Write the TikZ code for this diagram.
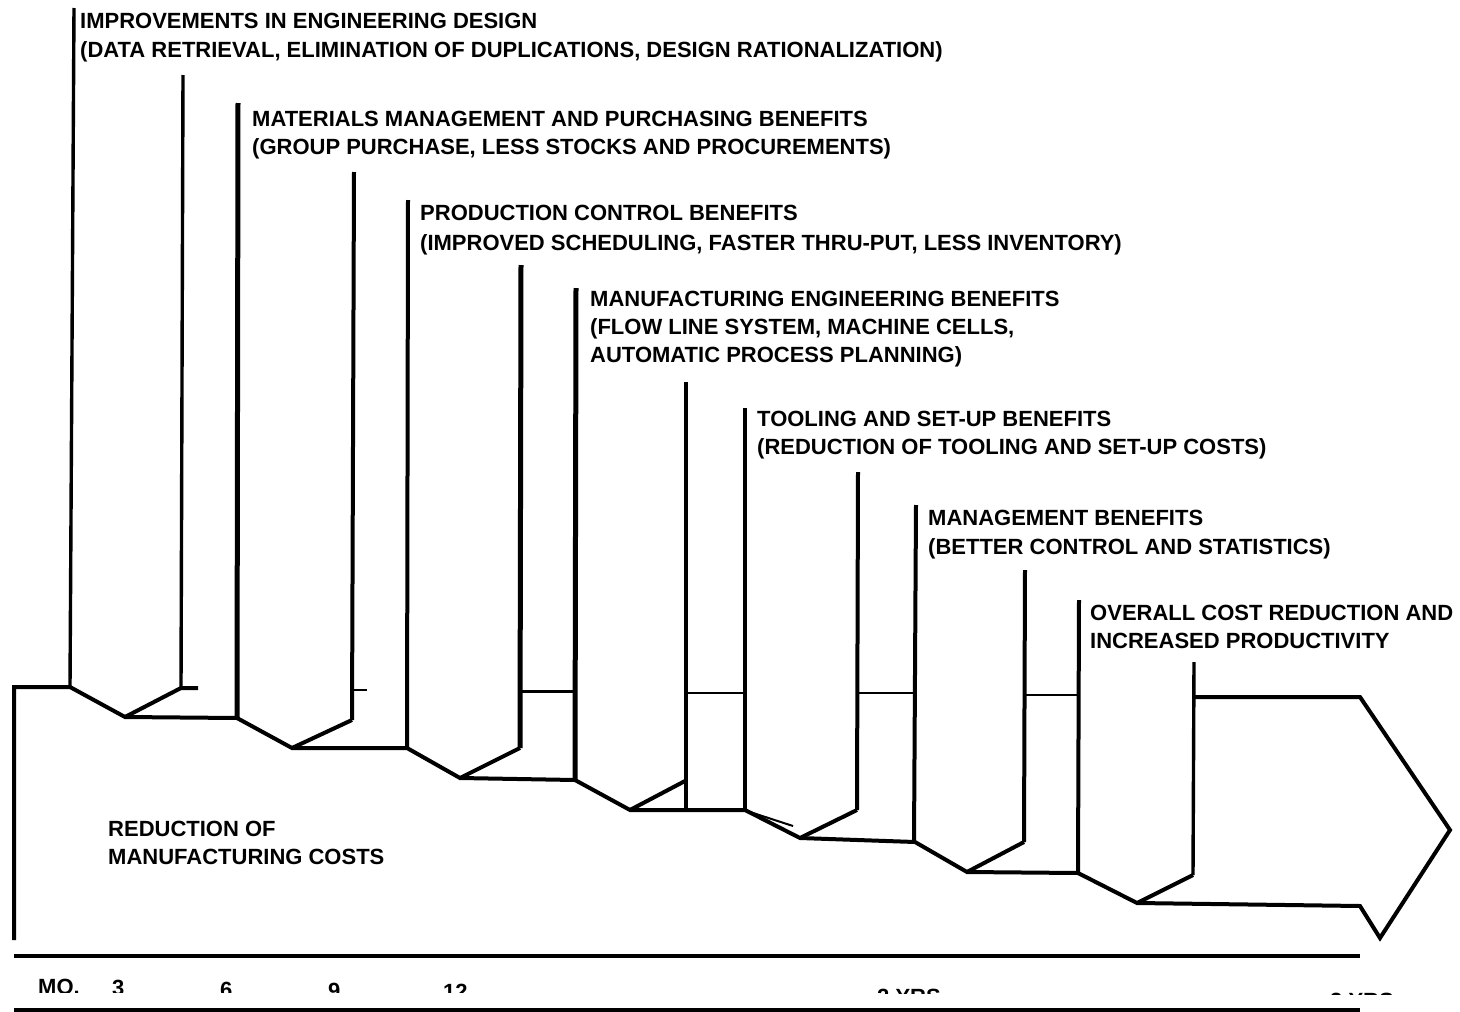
\documentclass[tikz,border=0pt]{standalone}
\usepackage{fontspec}
\setmainfont{Liberation Sans}
\begin{document}
\begin{tikzpicture}[x=1pt,y=-1pt,
  lbl/.style={anchor=base west,inner sep=0pt,font=\fontsize{22}{26}\selectfont\bfseries},
  lead/.style={line width=4pt},
  stepline/.style={line width=4pt,line join=miter},
  thinrule/.style={line width=2pt},
  axisrule/.style={line width=4pt}]
\useasboundingbox (0,0) rectangle (1460,1012);

% ---- stepped cost line and arrow outline ----
\draw[stepline] (14,940) -- (14,687) -- (70,687) -- (125,717) -- (237,718)
  -- (292,748) -- (407,748) -- (460,778) -- (575,780) -- (630,810) -- (745,810)
  -- (800,838) -- (915,842) -- (967,872) -- (1078,873) -- (1137,903)
  -- (1360,906) -- (1380,938) -- (1450,830) -- (1360,697) -- (1195,697);

% rising edges of the V notches
\draw[stepline] (125,717) -- (181,688) -- (198,688);
\draw[stepline] (292,748) -- (352,720);
\draw[stepline] (460,778) -- (520,748);
\draw[stepline] (630,810) -- (685,781);
\draw[stepline] (800,838) -- (857,810);
\draw[stepline] (967,872) -- (1024,842);
\draw[stepline] (1137,903) -- (1193,875);
\draw[thinrule] (750,812) -- (793,826);

% pieces of the upper arrow edge between the columns
\draw[thinrule] (352,690) -- (367,690);
\draw[line width=3pt] (520,691) -- (575,691);
\draw[line width=1.6pt] (686,693) -- (745,693);
\draw[line width=2.6pt] (857,693) -- (915,693);
\draw[line width=2.6pt] (1024,695) -- (1078,695);

% ---- leader lines ----
\draw[lead,line width=3.4pt] (74,8) -- (70,687);
\draw[lead,line width=3.4pt] (183,75) -- (181,688);
\draw[lead,line width=5pt] (238,103) -- (237,718);
\draw[lead] (354,172) -- (352,720);
\draw[lead] (408,200) -- (407,748);
\draw[lead,line width=5pt] (521,265) -- (520,748);
\draw[lead,line width=5pt] (576,288) -- (575,780);
\draw[lead] (686,382) -- (686,810);
\draw[lead] (745,408) -- (745,810);
\draw[lead] (858,472) -- (857,810);
\draw[lead] (916,505) -- (914,842);
\draw[lead] (1025,570) -- (1024,842);
\draw[lead] (1079,600) -- (1078,873);
\draw[lead,line width=3.4pt] (1194,662) -- (1193,875);

% ---- benefit labels ----
\node[lbl] (t1a) at (80,28) {IMPROVEMENTS IN ENGINEERING DESIGN};
\node[lbl] (t1b) at (80,57) {(DATA RETRIEVAL, ELIMINATION OF DUPLICATIONS, DESIGN RATIONALIZATION)};
\node[lbl] (t2a) at (252,126) {MATERIALS MANAGEMENT AND PURCHASING BENEFITS};
\node[lbl] (t2b) at (252,154) {(GROUP PURCHASE, LESS STOCKS AND PROCUREMENTS)};
\node[lbl] (t3a) at (420,220) {PRODUCTION CONTROL BENEFITS};
\node[lbl] (t3b) at (420,250) {(IMPROVED SCHEDULING, FASTER THRU-PUT, LESS INVENTORY)};
\node[lbl] (t4a) at (590,306) {MANUFACTURING ENGINEERING BENEFITS};
\node[lbl] (t4b) at (590,334) {(FLOW LINE SYSTEM, MACHINE CELLS,};
\node[lbl] (t4c) at (590,362) {AUTOMATIC PROCESS PLANNING)};
\node[lbl] (t5a) at (757,426) {TOOLING AND SET-UP BENEFITS};
\node[lbl] (t5b) at (757,454) {(REDUCTION OF TOOLING AND SET-UP COSTS)};
\node[lbl] (t6a) at (928,525) {MANAGEMENT BENEFITS};
\node[lbl] (t6b) at (928,554) {(BETTER CONTROL AND STATISTICS)};
\node[lbl] (t7a) at (1090,620) {OVERALL COST REDUCTION AND};
\node[lbl] (t7b) at (1090,648) {INCREASED PRODUCTIVITY};
\node[lbl] (t8a) at (108,836) {REDUCTION OF};
\node[lbl] (t8b) at (108,864) {MANUFACTURING COSTS};

% ---- time axis (scale marks cut off at the lower edge) ----
\draw[axisrule] (14,956) -- (1360,956);
\draw[axisrule] (14,1010) -- (1360,1010);
\begin{scope}
  \clip (0,962) -- (1460,962) -- (1460,995) -- (0,992) -- cycle;
  \node[lbl] (m0) at (38,994) {MO.};
  \node[lbl] (m3) at (112,995) {3};
  \node[lbl] (m6) at (220,997) {6};
  \node[lbl] (m9) at (328,998) {9};
  \node[lbl] (m12) at (443,999) {12};
  \node[lbl] (y2) at (877,1004) {2 YRS};
  \node[lbl] (y3) at (1330,1008) {3 YRS};
\end{scope}
\end{tikzpicture}
\end{document}
